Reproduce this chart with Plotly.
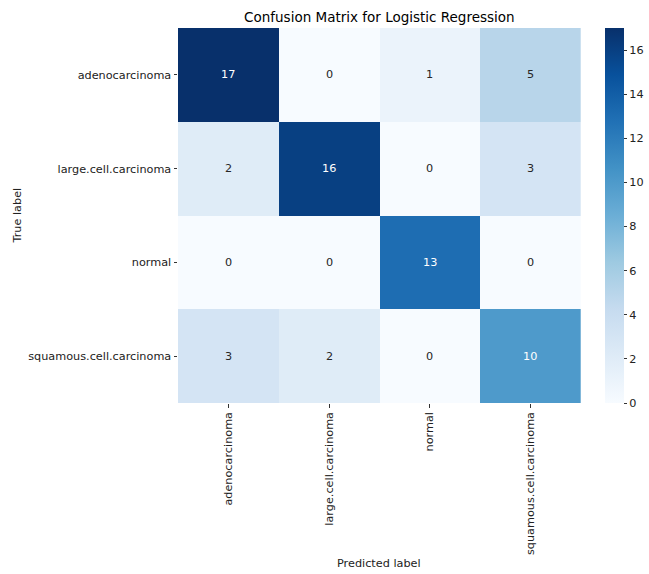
import plotly.graph_objects as go

labels = ["adenocarcinoma", "large.cell.carcinoma", "normal", "squamous.cell.carcinoma"]
matrix = [
    [17, 0, 1, 5],
    [2, 16, 0, 3],
    [0, 0, 13, 0],
    [3, 2, 0, 10],
]
cbar_ticks = [0, 2, 4, 6, 8, 10, 12, 14, 16]

blues = [
    [0.0, "rgb(247,251,255)"], [0.125, "rgb(222,235,247)"], [0.25, "rgb(198,219,239)"],
    [0.375, "rgb(158,202,225)"], [0.5, "rgb(107,174,214)"], [0.625, "rgb(66,146,198)"],
    [0.75, "rgb(33,113,181)"], [0.875, "rgb(8,81,156)"], [1.0, "rgb(8,48,107)"],
]

W, H = 649, 574
L, R, T, B = 178, 580.7, 28, 402.7
MR = 4  # right margin of paper area
PW = W - L - MR  # paper width in px
FONT = "DejaVu Sans"
FS = 11.25
zmin, zmax = 0, max(max(r) for r in matrix)

fig = go.Figure(go.Heatmap(
    z=matrix, x=labels, y=labels, colorscale=blues, zmin=zmin, zmax=zmax,
    showscale=True, hoverinfo="skip",
    colorbar=dict(
        thickness=19, len=1.0, lenmode="fraction", y=0.5, yanchor="middle",
        x=(605 - L) / PW, xanchor="left", xpad=0, ypad=0,
        outlinewidth=0, ticks="outside", ticklen=3.5, tickwidth=0.8, tickcolor="#333",
        tickvals=cbar_ticks, tickfont=dict(family=FONT, size=FS, color="#222"),
    ),
))

annotations = []
for i, row in enumerate(matrix):
    for j, v in enumerate(row):
        col = "white" if v / zmax > 0.55 else "#262626"
        annotations.append(dict(x=labels[j], y=labels[i], text=str(v), showarrow=False,
                                font=dict(family=FONT, size=FS, color=col)))
annotations.append(dict(text="True label", textangle=-90, x=(17 - L) / (R - L), xref="x domain",
                        xanchor="center", y=0.5, yref="y domain", yanchor="middle",
                        showarrow=False, font=dict(family=FONT, size=FS, color="#222")))
annotations.append(dict(text="Predicted label", x=0.5, xref="x domain", xanchor="center",
                        y=-(563 - B) / (B - T), yref="y domain", yanchor="middle",
                        showarrow=False, font=dict(family=FONT, size=FS, color="#222")))

fig.update_layout(
    width=W, height=H, margin=dict(l=L, r=MR, t=T, b=H - B),
    paper_bgcolor="white", plot_bgcolor="white",
    title=dict(text="Confusion Matrix for Logistic Regression", x=(L + R) / 2 / W, xanchor="center",
               y=1 - 17 / H, yanchor="middle", font=dict(family=FONT, size=13.5, color="black")),
    xaxis=dict(type="category", domain=[0, (R - L) / PW], tickangle=-90, ticks="outside",
               ticklen=3.5, tickwidth=0.8, tickcolor="#333", showgrid=False, zeroline=False,
               showline=False, tickfont=dict(family=FONT, size=FS, color="#222"), automargin=False),
    yaxis=dict(type="category", autorange="reversed", ticks="outside", ticklen=3.5, tickwidth=0.8,
               tickcolor="#333", showgrid=False, zeroline=False, showline=False,
               tickfont=dict(family=FONT, size=FS, color="#222"), automargin=False),
    annotations=annotations,
)

fig.write_html("out.html")
